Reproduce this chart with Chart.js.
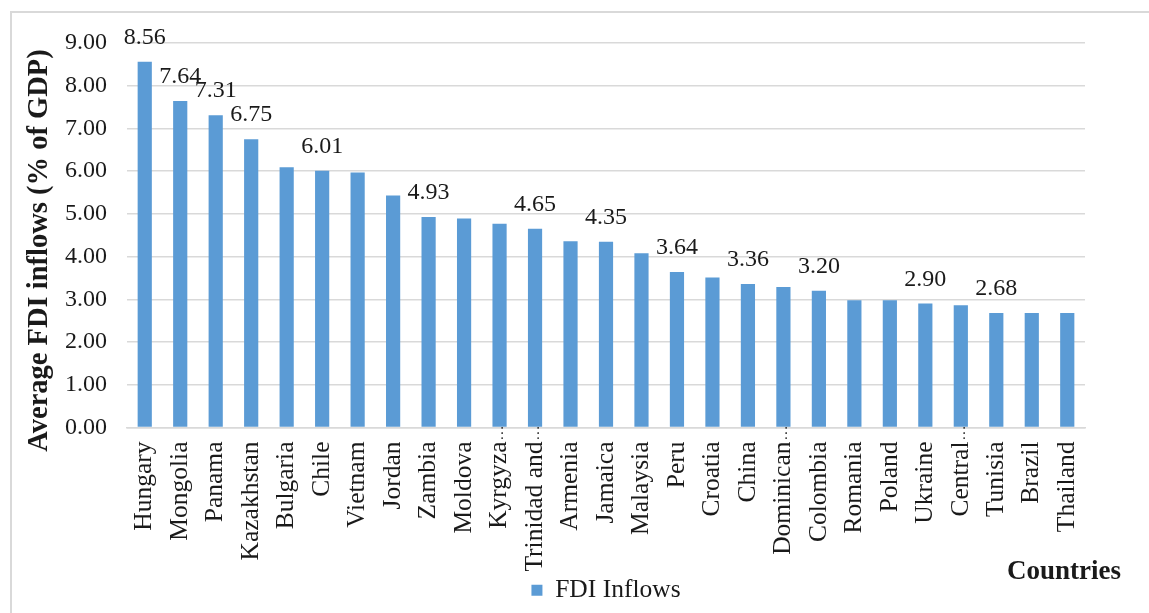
<!DOCTYPE html>
<html lang="en">
<head>
    <meta charset="UTF-8" />
    <title>Average FDI Inflows</title>
    <script src="https://cdn.jsdelivr.net/npm/chart.js@4"></script>
    <style>
        html, body {
            margin: 0;
            padding: 0;
            background: #fff;
        }

        #wrap {
            position: relative;
            width: 1149px;
            height: 613px;
            overflow: hidden;
        }

        #frame {
            position: absolute;
            left: 10px;
            top: 11px;
            width: 1200px;
            height: 700px;
            border-left: 2px solid #d9d9d9;
            border-top: 2px solid #d9d9d9;
        }

        #chart {
            position: absolute;
            left: 0;
            top: 0;
        }
    </style>
</head>
<body>
    <div id="wrap">
        <div id="frame"></div>
        <canvas id="chart" width="1149" height="613"></canvas>
    </div>

    <script>
        const countries = [
            "Hungary", "Mongolia", "Panama", "Kazakhstan", "Bulgaria", "Chile", "Vietnam",
            "Jordan", "Zambia", "Moldova", "Kyrgyza\u2026", "Trinidad and\u2026", "Armenia",
            "Jamaica", "Malaysia", "Peru", "Croatia", "China", "Dominican\u2026", "Colombia",
            "Romania", "Poland", "Ukraine", "Central\u2026", "Tunisia", "Brazil", "Thailand"
        ];

        const fdiInflows = [
            8.56, 7.64, 7.31, 6.75, 6.09, 6.01, 5.97,
            5.43, 4.93, 4.89, 4.77, 4.65, 4.36,
            4.35, 4.08, 3.64, 3.51, 3.36, 3.29, 3.20,
            2.98, 2.98, 2.90, 2.86, 2.68, 2.68, 2.68
        ];

        // which bars carry a value label above them
        const labelled = [
            "Hungary", "Mongolia", "Panama", "Kazakhstan", "Chile", "Zambia", "Trinidad and\u2026",
            "Jamaica", "Peru", "China", "Colombia", "Ukraine", "Tunisia"
        ];

        const yTicks = [0, 1, 2, 3, 4, 5, 6, 7, 8, 9];

        const ELLIPSIS = "\u2026";
        const serif = "'Liberation Serif', 'Times New Roman', serif";
        const textColor = "#1a1a1a";
        const gridColor = "#d9d9d9";

        const valueLabels = {
            id: "valueLabels",
            afterDatasetsDraw(chart) {
                const ctx = chart.ctx;
                const meta = chart.getDatasetMeta(0);
                ctx.save();
                ctx.font = "24px " + serif;
                ctx.fillStyle = textColor;
                ctx.textAlign = "center";
                ctx.textBaseline = "middle";
                countries.forEach((c, i) => {
                    if (!labelled.includes(c)) return;
                    const bar = meta.data[i];
                    ctx.fillText(fdiInflows[i].toFixed(2), bar.x, bar.y - 24);
                });
                ctx.restore();
            }
        };

        // cut-off country names get their ellipsis tucked up against the axis line
        const tickEllipsis = {
            id: "tickEllipsis",
            afterDraw(chart) {
                const ctx = chart.ctx;
                const xs = chart.scales.x;
                ctx.save();
                ctx.font = "15px " + serif;
                ctx.fillStyle = textColor;
                ctx.textAlign = "left";
                ctx.textBaseline = "middle";
                countries.forEach((c, i) => {
                    if (!c.endsWith(ELLIPSIS)) return;
                    ctx.save();
                    ctx.translate(xs.getPixelForTick(i), xs.top + 13);
                    ctx.rotate(-Math.PI / 2);
                    ctx.fillText(ELLIPSIS, 0, 0);
                    ctx.restore();
                });
                ctx.restore();
            }
        };

        // axis captions: rotated one on the left, "Countries" bottom right
        const axisCaptions = {
            id: "axisCaptions",
            afterDraw(chart) {
                const ctx = chart.ctx;
                const area = chart.chartArea;
                ctx.save();
                ctx.fillStyle = textColor;
                ctx.textBaseline = "middle";

                ctx.font = "bold 27px " + serif;
                ctx.textAlign = "right";
                ctx.fillText("Countries", area.right + 36, area.bottom + 145);

                ctx.font = "bold 28.5px " + serif;
                ctx.textAlign = "center";
                ctx.translate(area.left - 87, area.bottom - 177);
                ctx.rotate(-Math.PI / 2);
                ctx.fillText("Average FDI inflows (% of GDP)", 0, 0);
                ctx.restore();
            }
        };

        new Chart(document.getElementById("chart"), {
            type: "bar",
            data: {
                labels: countries,
                datasets: [{
                    label: "FDI Inflows",
                    data: fdiInflows,
                    backgroundColor: "#5b9bd5",
                    borderWidth: 0,
                    barPercentage: 0.4,
                    categoryPercentage: 1
                }]
            },
            options: {
                responsive: false,
                animation: false,
                layout: {
                    padding: { left: 10, right: 64, top: 43, bottom: 0 }
                },
                plugins: {
                    tooltip: { enabled: false },
                    legend: {
                        position: "bottom",
                        fullSize: false,
                        labels: {
                            boxWidth: 11,
                            boxHeight: 11,
                            padding: 4,
                            color: textColor,
                            font: { family: serif, size: 25.5 }
                        }
                    }
                },
                scales: {
                    x: {
                        grid: { display: false, drawTicks: false },
                        border: { display: true, color: gridColor, width: 1.5 },
                        ticks: {
                            color: textColor,
                            font: { family: serif, size: 25.5 },
                            minRotation: 90,
                            maxRotation: 90,
                            autoSkip: false,
                            padding: 14,
                            callback(value) {
                                return this.getLabelForValue(value).replace(ELLIPSIS, "");
                            }
                        },
                        afterFit(scale) {
                            scale.height = 146;
                        }
                    },
                    y: {
                        min: 0,
                        max: 9,
                        afterBuildTicks(scale) {
                            scale.ticks = yTicks.map(v => ({ value: v }));
                        },
                        grid: { color: gridColor, lineWidth: 1.5, drawTicks: false },
                        border: { display: false },
                        ticks: {
                            color: textColor,
                            font: { family: serif, size: 24 },
                            padding: 20,
                            callback: v => Number(v).toFixed(2)
                        },
                        afterFit(scale) {
                            scale.width = 117;
                        }
                    }
                }
            },
            plugins: [valueLabels, tickEllipsis, axisCaptions]
        });
    </script>
</body>
</html>
